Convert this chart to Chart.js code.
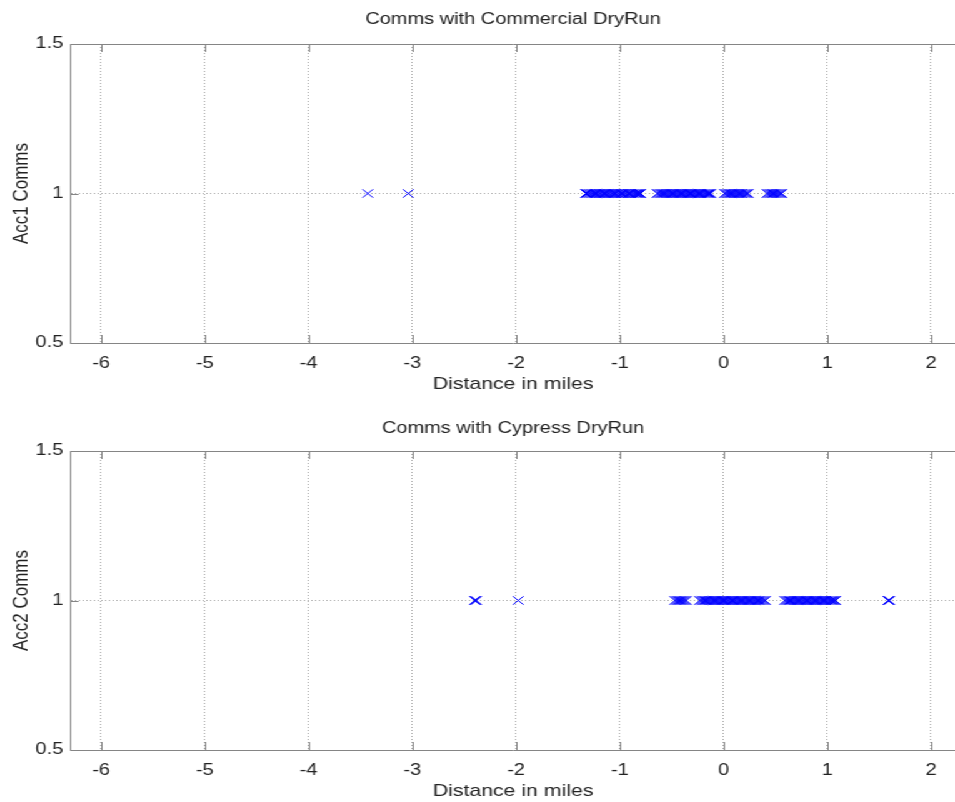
<!DOCTYPE html>
<html><head><meta charset="utf-8">
<script src="https://cdn.jsdelivr.net/npm/chart.js@4.4.1/dist/chart.umd.min.js"></script>
<style>
html,body{margin:0;padding:0;background:#fff;overflow:hidden;width:955px;height:802px;}
#wrap{position:absolute;left:0;top:0;width:764px;height:802px;transform:scaleX(1.25);transform-origin:0 0;}
canvas{display:block;}
</style></head><body>
<div id="wrap"><canvas id="c1" width="764" height="401"></canvas><canvas id="c2" width="764" height="401"></canvas></div>
<script>
// ---- data ----
const xTicks = [-6, -5, -4, -3, -2, -1, 0, 1, 2];
const xTickLabels = ['-6', '-5', '-4', '-3', '-2', '-1', '0', '1', '2'];
const yTicks = [0.5, 1, 1.5];
const yTickLabels = ['0.5', '1', '1.5'];

// Acc1 (Commercial DryRun): 107 points
const acc1Distance = [
  -3.43, -3.04,
  -1.330, -1.318, -1.301, -1.289, -1.274, -1.262, -1.247, -1.233, -1.220, -1.204,
  -1.192, -1.179, -1.163, -1.150, -1.138, -1.121, -1.109, -1.096, -1.080, -1.068,
  -1.052, -1.040, -1.023, -1.011, -0.994, -0.981, -0.966, -0.951, -0.939, -0.921,
  -0.908, -0.894, -0.879, -0.866, -0.850, -0.837, -0.823, -0.811, -0.800,
  -0.640, -0.627, -0.611, -0.598, -0.585, -0.570, -0.556, -0.543, -0.527, -0.514,
  -0.500, -0.486, -0.472, -0.457, -0.444, -0.430, -0.415, -0.401, -0.388, -0.373,
  -0.360, -0.346, -0.331, -0.318, -0.304, -0.289, -0.276, -0.262, -0.247, -0.234,
  -0.220, -0.206, -0.191, -0.178, -0.164, -0.150, -0.137, -0.123,
  0.010, 0.024, 0.038, 0.053, 0.066, 0.081, 0.095, 0.108, 0.123, 0.137,
  0.151, 0.166, 0.179, 0.194, 0.208, 0.222, 0.238,
  0.420, 0.434, 0.449, 0.462, 0.477, 0.491, 0.505, 0.519, 0.533, 0.547, 0.560
];
const acc1Comms = [
  1, 1, 1, 1, 1, 1, 1, 1, 1, 1,
  1, 1, 1, 1, 1, 1, 1, 1, 1, 1,
  1, 1, 1, 1, 1, 1, 1, 1, 1, 1,
  1, 1, 1, 1, 1, 1, 1, 1, 1, 1,
  1, 1, 1, 1, 1, 1, 1, 1, 1, 1,
  1, 1, 1, 1, 1, 1, 1, 1, 1, 1,
  1, 1, 1, 1, 1, 1, 1, 1, 1, 1,
  1, 1, 1, 1, 1, 1, 1, 1, 1, 1,
  1, 1, 1, 1, 1, 1, 1, 1, 1, 1,
  1, 1, 1, 1, 1, 1, 1, 1, 1, 1,
  1, 1, 1, 1, 1, 1, 1
];

// Acc2 (Cypress DryRun): 98 points
const acc2Distance = [
  -2.400, -2.392, -2.384, -1.980,
  -0.470, -0.456, -0.441, -0.428, -0.413, -0.399, -0.386, -0.372, -0.360,
  -0.230, -0.216, -0.202, -0.187, -0.174, -0.159, -0.146, -0.131, -0.118, -0.104,
  -0.090, -0.075, -0.062, -0.048, -0.034, -0.019, -0.006, 0.008, 0.022, 0.037,
  0.050, 0.064, 0.079, 0.092, 0.107, 0.120, 0.135, 0.149, 0.162, 0.177,
  0.191, 0.205, 0.219, 0.234, 0.247, 0.262, 0.276, 0.290, 0.304, 0.318,
  0.333, 0.346, 0.361, 0.375, 0.389, 0.403,
  0.590, 0.604, 0.618, 0.633, 0.646, 0.661, 0.675, 0.689, 0.703, 0.717,
  0.732, 0.745, 0.760, 0.774, 0.788, 0.802, 0.816, 0.831, 0.844, 0.859,
  0.873, 0.887, 0.901, 0.915, 0.930, 0.943, 0.958, 0.972, 0.986, 1.000,
  1.014, 1.029, 1.042, 1.057, 1.070, 1.080,
  1.585, 1.592, 1.600
];
const acc2Comms = [
  1, 1, 1, 1, 1, 1, 1, 1, 1, 1,
  1, 1, 1, 1, 1, 1, 1, 1, 1, 1,
  1, 1, 1, 1, 1, 1, 1, 1, 1, 1,
  1, 1, 1, 1, 1, 1, 1, 1, 1, 1,
  1, 1, 1, 1, 1, 1, 1, 1, 1, 1,
  1, 1, 1, 1, 1, 1, 1, 1, 1, 1,
  1, 1, 1, 1, 1, 1, 1, 1, 1, 1,
  1, 1, 1, 1, 1, 1, 1, 1, 1, 1,
  1, 1, 1, 1, 1, 1, 1, 1, 1, 1,
  1, 1, 1, 1, 1, 1, 1, 1
];

// ---- style ----
const FONT = '"Liberation Sans", Arial, Helvetica, sans-serif';
const TEXT = '#222222';
const AXIS = '#858585';
const GRID = '#a8a8a8';
const X_MIN = -6.29, X_MAX = 2.23;

const frame = {
  id: 'frame',
  afterDraw(chart) {
    const {ctx, chartArea: a, scales: {x, y}} = chart;
    ctx.save();
    ctx.strokeStyle = AXIS;
    ctx.lineWidth = 1;
    ctx.setLineDash([]);
    ctx.beginPath();
    const top = Math.round(a.top) + 0.5;
    ctx.moveTo(a.left, top); ctx.lineTo(a.right, top);
    xTicks.forEach(v => {
      const px = Math.round(x.getPixelForValue(v)) + 0.5;
      ctx.moveTo(px, a.bottom); ctx.lineTo(px, a.bottom - 8);
      ctx.moveTo(px, a.top); ctx.lineTo(px, a.top + 8);
    });
    yTicks.forEach(v => {
      const py = Math.round(y.getPixelForValue(v)) + 0.5;
      ctx.moveTo(a.left, py); ctx.lineTo(a.left + 6, py);
    });
    ctx.stroke();
    ctx.restore();
  }
};

function makeChart(id, title, yTitle, xs, ys, g) {
  const pts = xs.map((v, i) => ({x: v, y: ys[i]}));
  return new Chart(document.getElementById(id), {
    type: 'scatter',
    data: {datasets: [{
      data: pts,
      pointStyle: 'crossRot',
      pointRadius: 6,
      pointBorderWidth: 1,
      borderColor: '#0000ff',
      backgroundColor: '#0000ff',
      clip: false
    }]},
    options: {
      responsive: false, animation: false, devicePixelRatio: 1,
      layout: {padding: 0, autoPadding: false},
      plugins: {
        legend: {display: false}, tooltip: {enabled: false},
        title: {display: true, fullSize: false, text: title, color: TEXT,
          font: {family: FONT, size: 16, weight: 'normal'},
          padding: {top: g.tTop, bottom: g.tBot}}
      },
      scales: {
        x: {
          type: 'linear', position: 'bottom', min: X_MIN, max: X_MAX,
          afterBuildTicks: s => { s.ticks = xTicks.map(v => ({value: v})); },
          afterFit: s => { s.height = g.xH; s.paddingLeft = 0; s.paddingRight = 0; },
          ticks: {padding: 11, color: TEXT, font: {family: FONT, size: 16}, maxRotation: 0, minRotation: 0, autoSkip: false,
            callback: (v, i) => xTickLabels[i]},
          grid: {color: GRID, lineWidth: 1, drawTicks: false},
          border: {display: true, color: AXIS, width: 1, dash: [1, 2]},
          title: {display: true, text: 'Distance in miles', color: TEXT, font: {family: FONT, size: 17},
            padding: {top: g.xtp, bottom: g.xtp}}
        },
        y: {
          type: 'linear', position: 'left', min: 0.5, max: 1.5,
          afterBuildTicks: s => { s.ticks = yTicks.map(v => ({value: v})); },
          afterFit: s => { s.width = 56.8; s.paddingTop = 0; s.paddingBottom = 0; },
          ticks: {padding: 6.2, color: TEXT, font: {family: FONT, size: 16}, autoSkip: false,
            callback: (v, i) => yTickLabels[i]},
          grid: {color: GRID, lineWidth: 1, drawTicks: false},
          border: {display: true, color: AXIS, width: 1, dash: [1, 2]},
          title: {display: true, text: yTitle, color: TEXT, font: {family: FONT, size: 17},
            padding: {top: 7, bottom: 7}}
        }
      }
    },
    plugins: [frame]
  });
}

makeChart('c1', 'Comms with Commercial DryRun', 'Acc1 Comms', acc1Distance, acc1Comms,
  {tTop: 10.4, tBot: 14.4, xH: 58, xtp: 6.8});
makeChart('c2', 'Comms with Cypress DryRun', 'Acc2 Comms', acc2Distance, acc2Comms,
  {tTop: 18.4, tBot: 12.4, xH: 52, xtp: 0});
</script>
</body></html>
